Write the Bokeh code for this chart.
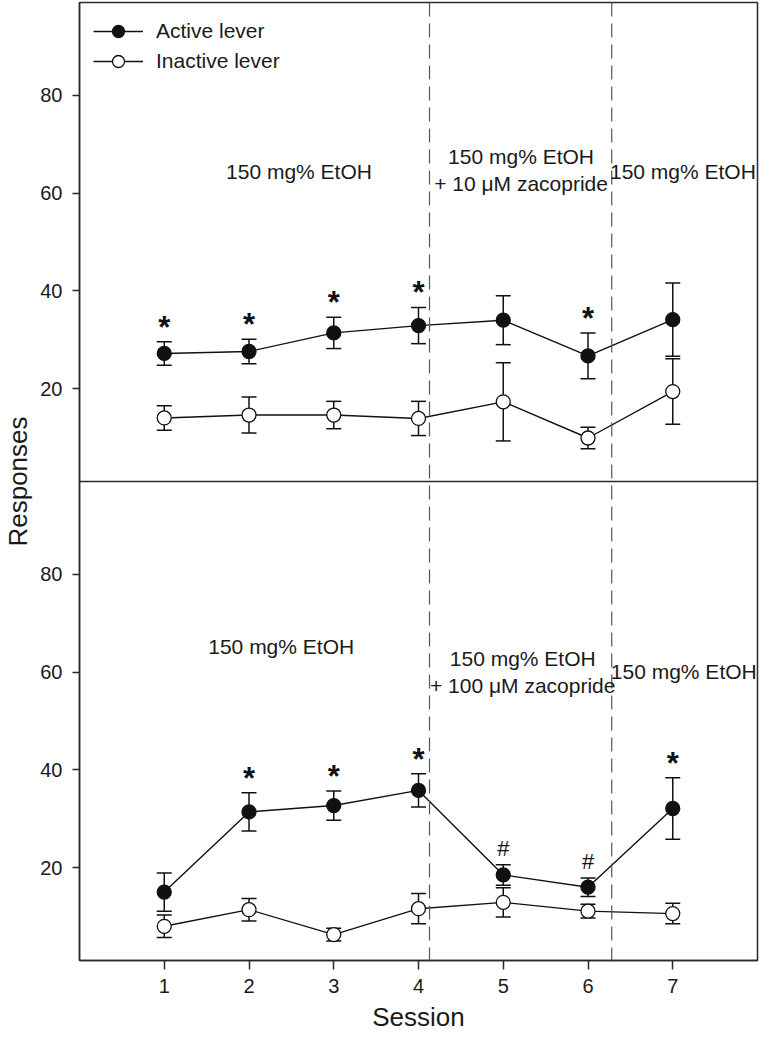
from bokeh.plotting import figure
from bokeh.models import (Range1d, FixedTicker, Span, Whisker, TeeHead,
                          ColumnDataSource, Legend, LegendItem, Label)
from bokeh.embed import file_html
from bokeh.resources import INLINE
from bokeh.core.properties import value

# ---------------- data ----------------
sessions = [1, 2, 3, 4, 5, 6, 7]

# top panel: 10 uM zacopride
top_active_mean = [27.2, 27.6, 31.4, 32.9, 34.0, 26.7, 34.1]
top_active_sem = [2.4, 2.5, 3.2, 3.7, 5.0, 4.7, 7.5]
top_inactive_mean = [14.0, 14.6, 14.6, 13.9, 17.3, 9.9, 19.4]
top_inactive_sem = [2.5, 3.7, 2.8, 3.5, 8.0, 2.2, 6.7]
top_star_sessions = [1, 2, 3, 4, 6]
top_hash_sessions = []

# bottom panel: 100 uM zacopride
bottom_active_mean = [15.0, 31.4, 32.7, 35.8, 18.5, 16.0, 32.1]
bottom_active_sem = [3.9, 3.9, 3.0, 3.4, 2.1, 1.9, 6.3]
bottom_inactive_mean = [8.0, 11.4, 6.3, 11.6, 12.9, 11.1, 10.6]
bottom_inactive_sem = [2.3, 2.3, 1.3, 3.1, 3.0, 1.4, 2.1]
bottom_star_sessions = [2, 3, 4, 7]
bottom_hash_sessions = [5, 6]

phase_boundaries = [4.13, 6.28]
y_ticks = [20, 40, 60, 80]

# ---------------- styling ----------------
FONT = "Liberation Sans"
INK = "#111111"
AXIS = "#2a2a2a"
TEXT = "#1a1a1a"

PANEL_LO, PANEL_HI = 1, 99
SPAN = PANEL_HI - PANEL_LO

p = figure(width=760, height=1034, output_backend="svg", toolbar_location=None,
           x_range=Range1d(0, 8),
           y_range=Range1d(PANEL_LO, PANEL_LO + 2 * SPAN),
           min_border_left=73, min_border_right=3, min_border_top=2,
           min_border_bottom=70)
p.extra_y_ranges = {"top": Range1d(PANEL_LO - SPAN, PANEL_HI)}

p.xgrid.visible = False
p.ygrid.visible = False
p.outline_line_color = AXIS
p.outline_line_width = 1.5
p.background_fill_color = "white"
p.border_fill_color = "white"

# x axis
xa = p.xaxis[0]
xa.ticker = FixedTicker(ticks=sessions)
xa.axis_label = "Session"
xa.axis_label_text_font = FONT
xa.axis_label_text_font_size = "26px"
xa.axis_label_text_font_style = "normal"
xa.axis_label_text_color = TEXT
xa.axis_label_standoff = 6
xa.major_label_text_font = FONT
xa.major_label_text_font_size = "20px"
xa.major_label_text_color = TEXT
xa.major_label_standoff = 9
xa.major_tick_out = 9
xa.major_tick_in = 0
xa.minor_tick_out = 0
xa.minor_tick_in = 0
xa.axis_line_color = AXIS
xa.axis_line_width = 1.5
xa.major_tick_line_color = AXIS
xa.major_tick_line_width = 1.5

# y axis: both panels share one axis, top panel ticks re-labelled
ya = p.yaxis[0]
ya.ticker = FixedTicker(ticks=y_ticks + [t + SPAN for t in y_ticks])
ya.major_label_overrides = {t + SPAN: str(t) for t in y_ticks}
ya.axis_label = "Responses"
ya.axis_label_text_font = FONT
ya.axis_label_text_font_size = "26px"
ya.axis_label_text_font_style = "normal"
ya.axis_label_text_color = TEXT
ya.axis_label_standoff = 4
ya.major_label_text_font = FONT
ya.major_label_text_font_size = "20px"
ya.major_label_text_color = TEXT
ya.major_label_standoff = 10
ya.major_tick_out = 7
ya.major_tick_in = 0
ya.minor_tick_out = 0
ya.minor_tick_in = 0
ya.axis_line_color = AXIS
ya.axis_line_width = 1.5
ya.major_tick_line_color = AXIS
ya.major_tick_line_width = 1.5

# panel divider and phase boundaries
p.add_layout(Span(location=PANEL_HI, dimension="width", line_color=AXIS,
                  line_width=1.5))
for b in phase_boundaries:
    p.add_layout(Span(location=b, dimension="height", line_color="#555555",
                      line_width=1.2, line_dash="14 7"))


def draw_panel(range_name, am, asem, im, isem, stars, hashes):
    rends = {}
    for key, mean, sem, fill in (("inactive", im, isem, "white"),
                                 ("active", am, asem, INK)):
        src = ColumnDataSource(dict(
            x=sessions, y=mean,
            upper=[m + s for m, s in zip(mean, sem)],
            lower=[m - s for m, s in zip(mean, sem)]))
        w = Whisker(source=src, base="x", upper="upper", lower="lower",
                    dimension="height", line_color=INK, line_width=1.5,
                    upper_head=TeeHead(size=15, line_color=INK, line_width=1.5),
                    lower_head=TeeHead(size=15, line_color=INK, line_width=1.5),
                    level="underlay", y_range_name=range_name)
        p.add_layout(w)
        ln = p.line("x", "y", source=src, line_color=INK, line_width=1.4,
                    y_range_name=range_name)
        sc = p.scatter("x", "y", source=src, marker="circle", size=14,
                       fill_color=fill, line_color=INK, line_width=1.3,
                       y_range_name=range_name)
        rends[key] = (ln, sc)
    if stars:
        idx = [sessions.index(s) for s in stars]
        p.text(x=[sessions[i] for i in idx],
               y=[am[i] + asem[i] + 3.0 for i in idx],
               text=["*"] * len(idx), text_align="center",
               text_baseline="middle", text_font=value(FONT),
               text_font_size="31px", text_font_style="bold", text_color=INK,
               y_range_name=range_name)
    if hashes:
        idx = [sessions.index(s) for s in hashes]
        p.text(x=[sessions[i] for i in idx],
               y=[am[i] + asem[i] + 3.3 for i in idx],
               text=["#"] * len(idx), text_align="center",
               text_baseline="middle", text_font=value(FONT),
               text_font_size="22px", text_color=INK,
               y_range_name=range_name)
    return rends


top = draw_panel("top", top_active_mean, top_active_sem, top_inactive_mean,
                 top_inactive_sem, top_star_sessions, top_hash_sessions)
draw_panel("default", bottom_active_mean, bottom_active_sem,
           bottom_inactive_mean, bottom_inactive_sem,
           bottom_star_sessions, bottom_hash_sessions)

# condition labels
labels = [
    ("top", 2.59, 64.4, "150 mg% EtOH"),
    ("top", 5.21, 67.4, "150 mg% EtOH"),
    ("top", 5.21, 61.9, "+ 10 \u03bcM zacopride"),
    ("top", 7.12, 64.4, "150 mg% EtOH"),
    ("default", 2.38, 65.2, "150 mg% EtOH"),
    ("default", 5.23, 62.7, "150 mg% EtOH"),
    ("default", 5.23, 57.2, "+ 100 \u03bcM zacopride"),
    ("default", 7.13, 60.1, "150 mg% EtOH"),
]
for rn, x, y, t in labels:
    p.add_layout(Label(x=x, y=y, text=t, y_range_name=rn, text_align="center",
                       text_baseline="middle", text_font=FONT,
                       text_font_size="21px", text_color=TEXT))

legend = Legend(items=[LegendItem(label="Active lever", renderers=list(top["active"])),
                       LegendItem(label="Inactive lever", renderers=list(top["inactive"]))],
                location="top_left", margin=0, padding=14, spacing=-3,
                glyph_width=50, glyph_height=30, label_standoff=13,
                label_height=20, label_text_font=FONT,
                label_text_font_size="21px", label_text_color=TEXT,
                background_fill_alpha=0, border_line_alpha=0)
p.add_layout(legend)

open("out.html", "w").write(file_html(p, INLINE))
